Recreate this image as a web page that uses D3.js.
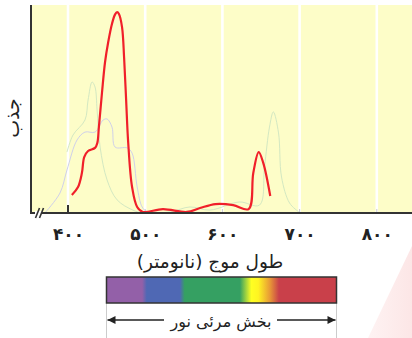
<!DOCTYPE html>
<html><head><meta charset="utf-8">
<script src="https://cdn.jsdelivr.net/npm/d3@7/dist/d3.min.js"></script>
<style>
html,body{margin:0;padding:0;background:#fff;}
svg{display:block;font-family:"DejaVu Sans",sans-serif;}
</style></head>
<body><svg id="c" width="412" height="338"></svg>
<script>
// ---- data ----
const tickValues = [400, 500, 600, 700, 800];
const tickLabels = ["۴۰۰", "۵۰۰", "۶۰۰", "۷۰۰", "۸۰۰"];
const xTitle = "طول موج (نانومتر)";
const yTitle = "جذب";
const bandTitle = "بخش مرئی نور";

const redWL  = [405,413,418,421,426,435,438,440,444,448,452,457,461,463.6,466,470,472.7,475.3,478,483,489.6,497,523,554,571,591,614,634,640,647,653,662];
const redAbs = [8.7,12.5,19.2,26.9,29.8,31.3,33.7,41.3,57.7,72.6,82,91,95.5,96.6,95.7,89.4,74.5,54.3,33.7,12.5,2.9,0.5,1.9,0.5,2.4,4.3,3.8,1.9,19.2,29.3,24,8.2];

const greenWL  = [398.7,406.5,422,426,431.2,435,437.7,441.6,450.6,463.6,484,497,532,558,584,622,648,654.5,661,666,672.7,676.6,687,699];
const greenAbs = [29.3,37.5,44.7,54.3,63,60.6,49.5,31.7,15.9,6.3,1.4,0,0.5,2.9,1.4,5.3,3.8,22.1,41.3,48.6,38.5,17.3,4.8,0.5];

const lavWL  = [370,389.6,398.7,411.7,422,435,445.5,450.6,457,461,476.6,483,489.6,496,502.6,515.6];
const lavAbs = [0,9.6,20.7,35.1,38.9,38.9,44.7,45.2,41.3,31.7,31.3,28.8,12.5,2.9,0.5,0];

const spectrumStops = [
  [0,"#9360a8"],[0.155,"#9360a8"],[0.175,"#4f68b4"],[0.32,"#4f68b4"],[0.34,"#35a062"],
  [0.58,"#35a062"],[0.63,"#ffff22"],[0.66,"#fff422"],[0.71,"#e89a36"],[0.75,"#c9404a"],[1,"#c9404a"]
];

// ---- layout ----
const svg = d3.select("#c");
const defs = svg.append("defs");
const L = 31, R = 412, T = 5, B = 213;
const x = d3.scaleLinear().domain([400, 800]).range([68, 376.8]);
const y = d3.scaleLinear().domain([0, 100]).range([B, T]);

// watermark
const wm = defs.append("linearGradient").attr("id","wm")
  .attr("x1","0").attr("y1","0").attr("x2","1").attr("y2","0");
wm.append("stop").attr("offset","0").attr("stop-color","#fef3f3");
wm.append("stop").attr("offset","1").attr("stop-color","#fce6e6");
svg.append("polygon").attr("points","412,246 412,338 368,338").attr("fill","url(#wm)");

// background
svg.append("rect").attr("x", L).attr("y", T).attr("width", R - L).attr("height", B - T).attr("fill", "#fdfdc8");

// grid lines
svg.append("g").selectAll("line").data(tickValues).join("line")
  .attr("x1", d => x(d)).attr("x2", d => x(d)).attr("y1", T).attr("y2", B)
  .attr("stroke", "#fff").attr("stroke-width", 2.6);
svg.append("g").selectAll("line").data(tickValues.slice(1)).join("line")
  .attr("x1", d => x(d)).attr("x2", d => x(d)).attr("y1", B - 4).attr("y2", B)
  .attr("stroke", "#ccc").attr("stroke-width", 1);
svg.append("line").attr("x1", x(400)).attr("x2", x(400)).attr("y1", B - 8).attr("y2", B)
  .attr("stroke", "#333").attr("stroke-width", 2);

// curves
const line = d3.line().x(d => x(d[0])).y(d => y(d[1])).curve(d3.curveCatmullRom.alpha(0.5));
svg.append("path").datum(d3.zip(lavWL, lavAbs)).attr("d", line)
  .attr("fill","none").attr("stroke","#cfd0ea").attr("stroke-width",1);
svg.append("path").datum(d3.zip(greenWL, greenAbs)).attr("d", line)
  .attr("fill","none").attr("stroke","#d3e8c2").attr("stroke-width",1);
svg.append("path").datum(d3.zip(redWL, redAbs)).attr("d", line)
  .attr("fill","none").attr("stroke","#f0202a").attr("stroke-width",2.2).attr("stroke-linejoin","round");

// axes
svg.append("line").attr("x1", L).attr("x2", L).attr("y1", T).attr("y2", B + 1)
  .attr("stroke", "#333").attr("stroke-width", 2);
svg.append("line").attr("x1", L - 1).attr("x2", R).attr("y1", B).attr("y2", B)
  .attr("stroke", "#333").attr("stroke-width", 2);
// break marks
svg.append("rect").attr("x", 35).attr("y", B - 2).attr("width", 7).attr("height", 4).attr("fill", "#fff");
[35.5, 39.5].forEach(bx => {
  svg.append("line").attr("x1", bx).attr("y1", B + 5).attr("x2", bx + 4).attr("y2", B - 5)
    .attr("stroke", "#333").attr("stroke-width", 1.6);
});

// tick labels via axis
const ax = d3.axisBottom(x).tickValues(tickValues).tickSize(0)
  .tickFormat((d, i) => tickLabels[i]);
const gx = svg.append("g").attr("transform", `translate(0,${B})`).call(ax);
gx.select(".domain").remove();
gx.selectAll("text").attr("dy", null).attr("y", 27).attr("font-size", 17).attr("font-weight", "bold")
  .attr("fill", "#222").attr("letter-spacing", "4px").attr("dx", 0).attr("font-family", "DejaVu Sans");

// titles
svg.append("text").attr("x", 210).attr("y", 268).attr("text-anchor","middle")
  .attr("font-size", 18.5).attr("fill","#222").text(xTitle);
svg.append("text").attr("transform","translate(19,118) rotate(-90)").attr("text-anchor","middle")
  .attr("font-size", 19).attr("fill","#222").text(yTitle);

// spectrum bar
const bx0 = 106.5, bx1 = 336.5, by0 = 277, by1 = 303;
const grad = defs.append("linearGradient").attr("id","spec")
  .attr("x1","0").attr("x2","1").attr("y1","0").attr("y2","0");
spectrumStops.forEach(s => grad.append("stop").attr("offset", s[0]).attr("stop-color", s[1]));
svg.append("line").attr("x1", bx0).attr("x2", bx0).attr("y1", by1).attr("y2", 338).attr("stroke","#ccc").attr("stroke-width",1);
svg.append("line").attr("x1", bx1).attr("x2", bx1).attr("y1", by1).attr("y2", 338).attr("stroke","#ccc").attr("stroke-width",1);
svg.append("rect").attr("x", bx0).attr("y", by0).attr("width", bx1 - bx0).attr("height", by1 - by0)
  .attr("fill","url(#spec)").attr("stroke","#333").attr("stroke-width",1.5);

// arrow
const ay = 320;
defs.append("marker").attr("id","ah").attr("viewBox","0 0 10 10").attr("refX",10).attr("refY",5)
  .attr("markerWidth",10).attr("markerHeight",8).attr("markerUnits","userSpaceOnUse").attr("orient","auto")
  .append("path").attr("d","M0,0 L10,5 L0,10 z").attr("fill","#222");
svg.append("line").attr("x1", 164).attr("x2", bx0 + 1).attr("y1", ay).attr("y2", ay)
  .attr("stroke","#222").attr("stroke-width",1.5).attr("marker-end","url(#ah)");
svg.append("line").attr("x1", 277).attr("x2", bx1 - 1).attr("y1", ay).attr("y2", ay)
  .attr("stroke","#222").attr("stroke-width",1.5).attr("marker-end","url(#ah)");
svg.append("text").attr("x", 221).attr("y", 327).attr("text-anchor","middle")
  .attr("font-size", 16).attr("fill","#222").text(bandTitle);
</script></body></html>
